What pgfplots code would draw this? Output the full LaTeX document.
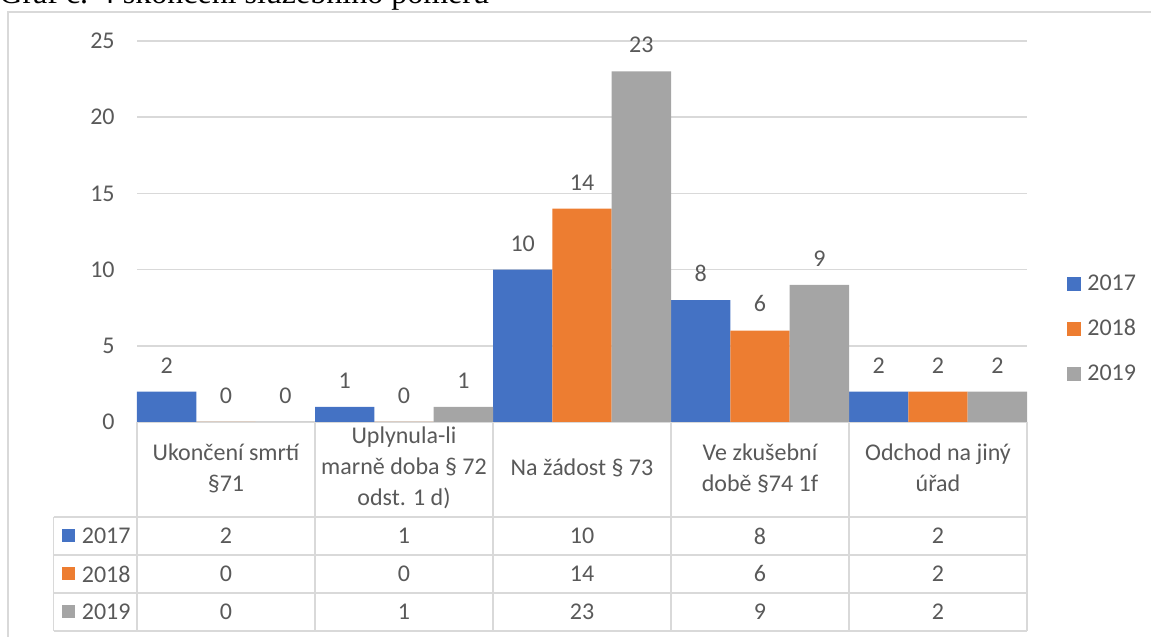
\documentclass[border=0pt]{standalone}
\usepackage{pgfplots}
\pgfplotsset{compat=1.18}
\usepackage{pgfplotstable}
\usepackage{fontspec}
\setmainfont{Carlito}
\newfontfamily\titlefont{Liberation Serif}
\definecolor{cA}{HTML}{4472C4}
\definecolor{cB}{HTML}{ED7D31}
\definecolor{cC}{HTML}{A5A5A5}
\definecolor{textc}{HTML}{595959}
\definecolor{gridc}{HTML}{D9D9D9}
\pgfplotstableread{
x a b c
0 2 0 0
1 1 0 1
2 10 14 23
3 8 6 9
4 2 2 2
}\data
\begin{document}
\begin{tikzpicture}[x=0.5pt,y=0.5pt]
\useasboundingbox (0,0) rectangle (1151,637);
\begin{scope}
\clip (0,0) rectangle (1151,637);
\begin{pgfinterruptboundingbox}
\node[anchor=base west, inner sep=0pt, font=\titlefont\fontsize{16}{19}\selectfont] at (-1,633) {Graf č. 4 skončení služebního poměru};
\draw[gridc, line width=0.75pt] (8,-5) -- (8,625) -- (1160,625);
\end{pgfinterruptboundingbox}
\end{scope}
\begin{axis}[
  at={(68.5pt,107.5pt)}, anchor=south west,
  scale only axis, width=445pt, height=190.5pt,
  xmin=-0.5, xmax=4.5, ymin=0, ymax=25,
  clip=false,
  axis line style={draw=none},
  major tick length=0pt,
  ytick={0,5,...,25},
  xtick={0,1,2,3,4},
  xticklabels={{Ukončení smrtí\\§71},{Uplynula-li\\marně doba § 72\\odst. 1 d)},{Na žádost § 73},{Ve zkušební\\době §74 1f},{Odchod na jiný\\úřad}},
  ymajorgrids,
  grid style={gridc, line width=0.75pt},
  tick label style={text=textc, font=\fontsize{12}{15.5}\selectfont},
  /pgf/number format/assume math mode=true,
  yticklabel style={anchor=east, inner sep=0pt, xshift=-11pt},
  xticklabel style={anchor=center, inner sep=0pt, yshift=-23pt, align=center},
  legend style={draw=none, fill=none, at={(1.0449,0.244)}, anchor=west, inner sep=0pt,
    font=\fontsize{12}{14}\selectfont, text=textc, row sep=13pt,
    nodes={inner sep=0pt}},
  legend cell align=left,
  legend image code/.code={\fill[#1] (0pt,-3.5pt) rectangle (7pt,3.5pt);},
  /tikz/every odd column/.append style={column sep=3pt},
  every node near coord/.append style={font=\fontsize{12}{14}\selectfont, text=textc, inner sep=0pt},
]
\addplot[ybar, bar width=29.67pt, bar shift=0pt, fill=cA, draw=none,
  nodes near coords, every node near coord/.append style={anchor=south, yshift=9pt}] table[x expr=\thisrow{x}-1/3, y=a] {\data};
\addlegendentry{2017}
\addplot[ybar, bar width=29.67pt, bar shift=0pt, fill=cB, draw=none,
  nodes near coords, every node near coord/.append style={anchor=south, yshift=9pt}] table[x=x, y=b] {\data};
\addlegendentry{2018}
\addplot[ybar, bar width=29.67pt, bar shift=0pt, fill=cC, draw=none,
  nodes near coords, every node near coord/.append style={anchor=south, yshift=9pt}] table[x expr=\thisrow{x}+1/3, y=c] {\data};
\addlegendentry{2019}
% data table values
\addplot[forget plot, ybar, bar width=0pt, bar shift=0pt, draw=none, fill=none,
  nodes near coords, point meta=explicit,
  every node near coord/.append style={anchor=center}] table[x=x, y expr=-7.48, meta=a] {\data};
\addplot[forget plot, ybar, bar width=0pt, bar shift=0pt, draw=none, fill=none,
  nodes near coords, point meta=explicit,
  every node near coord/.append style={anchor=center}] table[x=x, y expr=-9.97, meta=b] {\data};
\addplot[forget plot, ybar, bar width=0pt, bar shift=0pt, draw=none, fill=none,
  nodes near coords, point meta=explicit,
  every node near coord/.append style={anchor=center}] table[x=x, y expr=-12.47, meta=c] {\data};
\end{axis}
% table grid
\begin{scope}[gridc, line width=0.75pt]
\foreach \xx in {137,315,493,671,849,1027} {\draw (\xx,215) -- (\xx,6);}
\draw (53.5,120) -- (1027,120);
\draw (53.5,82) -- (1027,82);
\draw (53.5,44) -- (1027,44);
\draw (53.5,6) -- (1027,6);
\draw (53.5,120) -- (53.5,6);
\end{scope}
\fill[cA] (62,94.5) rectangle (75,107.5);
\fill[cB] (62,56.5) rectangle (75,69.5);
\fill[cC] (62,18.5) rectangle (75,31.5);
\begin{scope}[font=\fontsize{12}{14}\selectfont, text=textc]
\node[anchor=west, inner sep=0pt] at (81.5,101) {2017};
\node[anchor=west, inner sep=0pt] at (81.5,63) {2018};
\node[anchor=west, inner sep=0pt] at (81.5,25) {2019};
\end{scope}
\end{tikzpicture}
\end{document}
